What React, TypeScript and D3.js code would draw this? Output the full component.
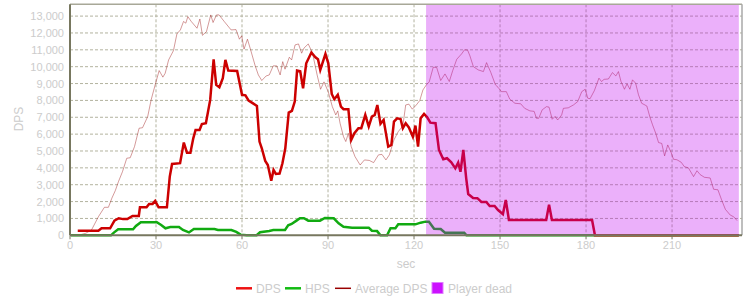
import React from "react";
import * as d3 from "d3";

const dpsT = [2.7, 9.9, 11, 14, 15.5, 17, 18.5, 20, 21.8, 24, 24.4, 26.7, 27.6, 28.8, 29.7, 30.9, 33.8, 34.8, 35.6, 38.4, 39.7, 40.8, 42, 43, 43.8, 45.2, 46, 47.4, 48.9, 50.1, 51, 52.1, 53.3, 54.2, 55.2, 58.3, 60, 61.2, 62.3, 63.7, 65.2, 66.1, 66.9, 68.1, 69, 70.2, 71, 71.8, 73.1, 74.1, 75.1, 76.3, 77.4, 78.4, 79.2, 80.3, 81.3, 82.4, 84.2, 85.6, 86.5, 87.3, 89.1, 90.1, 91.3, 92.2, 93.4, 94.5, 95.4, 97.1, 98.1, 99.2, 100.6, 101.6, 103, 104.2, 105.3, 106.3, 107.2, 108.3, 109.4, 111, 112.1, 113, 114.1, 115.3, 116.1, 117.1, 118.2, 119.6, 120.5, 121.4, 122.3, 123.5, 124.6, 125.7, 127.5, 128.7, 130.2, 131.5, 133, 134.4, 135.4, 136.2, 137.2, 138.2, 138.9, 140.6, 142.1, 143.5, 145.2, 146.4, 148.1, 149.3, 151, 152, 153.1, 166.1, 167.1, 168.1, 182.1, 183.1, 233.3];
const dpsV = [270, 270, 415, 415, 870, 1010, 960, 960, 1145, 1145, 1660, 1660, 1860, 1860, 2035, 1660, 1660, 3480, 4230, 4280, 5500, 4900, 4900, 5750, 6250, 6250, 6600, 6650, 8030, 10440, 8920, 8780, 9320, 10400, 9770, 9750, 8330, 8300, 7990, 7840, 7670, 5560, 5160, 4410, 4170, 3240, 3880, 3640, 3660, 4270, 5160, 7280, 7380, 7930, 9770, 9730, 8720, 10200, 10840, 10560, 10440, 9810, 10760, 10200, 8380, 8070, 8330, 7630, 7480, 7480, 5660, 6050, 6350, 6350, 7140, 6450, 7040, 7140, 7730, 6610, 6840, 5260, 5360, 6740, 6940, 6900, 6350, 6650, 6400, 5850, 6510, 5260, 6940, 7200, 7000, 6680, 6650, 5060, 4510, 4570, 4330, 3970, 4310, 3770, 5060, 3380, 2450, 2210, 2200, 1980, 1980, 1740, 1740, 1500, 1250, 2090, 910, 910, 1820, 910, 910, 0, 0];

const hpsT = [0.3, 14.3, 15.3, 16.8, 22, 23, 24.7, 30.3, 31.8, 33.3, 35, 38, 39.4, 41.5, 43.2, 50.4, 51.6, 56.3, 58, 59.5, 61.6, 65.1, 66.3, 69.5, 70.9, 75, 76.1, 77.3, 79, 80.2, 81.6, 83.1, 87.2, 88.9, 92, 93.7, 95.4, 98.4, 104.2, 105.3, 107.1, 108.3, 110.6, 111.8, 113.5, 114.5, 120.5, 122.3, 124, 125.2, 127, 129.3, 130.8, 137.5, 138.3, 233.3];
const hpsV = [0, 0, 160, 355, 355, 550, 780, 780, 610, 415, 490, 490, 315, 170, 370, 370, 315, 315, 200, 40, 0, 0, 180, 255, 315, 315, 590, 670, 870, 1010, 1010, 870, 870, 1030, 1010, 710, 510, 450, 450, 270, 250, 0, 0, 415, 415, 650, 650, 750, 810, 810, 390, 375, 155, 155, 0, 0];

const avgT = [0, 2.9, 5.5, 7.5, 9.9, 12, 13.4, 14.6, 15.8, 16.9, 18.3, 19.8, 21, 22.5, 24.1, 25.3, 27.1, 28.3, 29.7, 31.1, 32.4, 33.2, 34.4, 36.1, 37.3, 38.5, 39.6, 40.4, 41.1, 42.3, 44.3, 45.3, 46.2, 47.6, 49.1, 49.9, 51.1, 52, 53.8, 56.2, 57.9, 59.1, 59.9, 60.7, 61.9, 63, 64.6, 65.7, 66.9, 68.4, 69.5, 70.9, 72.1, 73.3, 74.2, 75, 76.5, 77.3, 78.5, 79.7, 80.8, 81.6, 83.1, 84.6, 86.2, 87.4, 88.6, 90.1, 91.5, 92.7, 93.4, 94.2, 95.4, 96.2, 97.1, 98.1, 99.4, 101.2, 102.7, 104.4, 105.9, 107.6, 108.8, 110.2, 111.4, 113, 114.5, 116.1, 117.1, 118.2, 119.4, 120.8, 122, 123.1, 124.3, 125.3, 126.7, 127.9, 129.3, 130.8, 132.3, 133.5, 134.9, 136.6, 137.6, 138.7, 139.5, 140.7, 142.4, 144.2, 145.3, 146.8, 148.4, 149.3, 150.5, 152.2, 153.4, 155.2, 157.2, 158.6, 160.4, 161.9, 162.7, 163.5, 164.7, 166.2, 167.1, 168.2, 169.2, 170.1, 171.5, 172.1, 173.8, 175.6, 177.1, 178.5, 179.7, 180.6, 181.4, 182.9, 184.5, 185.4, 186.3, 187.8, 189.2, 190.4, 191.3, 192.2, 193.4, 194.3, 195.3, 196.2, 197.3, 198.3, 199.4, 201.2, 202.3, 203.2, 204.3, 205.3, 206.4, 207.4, 208.5, 209.7, 210.5, 211.7, 213.2, 214.3, 215.7, 217.5, 218.7, 219.8, 221.3, 223.3, 224.5, 226, 227.2, 228.6, 230.3, 231.5, 232.7];
const avgV = [0, 0, 120, 315, 1100, 1660, 1660, 2200, 2650, 3180, 3770, 4570, 4600, 5260, 6350, 6380, 7040, 8030, 8920, 9770, 9380, 9610, 10400, 10960, 11950, 12180, 12680, 12580, 12970, 12680, 12280, 12830, 11860, 12080, 13070, 12620, 13070, 13070, 12680, 12180, 12200, 11630, 11830, 11040, 11630, 11000, 10050, 9510, 9180, 9450, 9510, 10050, 10050, 9510, 10300, 9850, 10560, 10400, 11290, 11350, 10800, 11100, 11350, 10800, 9510, 8660, 9100, 8500, 7630, 7140, 7380, 6650, 5850, 5560, 6050, 5260, 4670, 4170, 4470, 4440, 4310, 4770, 4800, 4470, 4770, 5660, 6150, 6490, 7730, 7780, 7480, 7730, 7990, 8620, 8920, 9100, 9970, 9950, 9180, 9570, 9120, 9770, 10440, 10760, 11000, 10980, 10640, 10000, 9810, 9710, 10240, 9650, 8920, 8780, 8520, 8520, 8070, 7830, 7800, 7530, 7380, 7350, 6940, 6940, 7440, 7630, 7600, 6880, 7050, 6840, 7140, 7530, 7560, 7730, 7930, 8520, 8660, 8130, 8100, 8580, 9320, 9120, 9250, 9270, 9650, 9450, 9710, 9120, 8660, 8980, 8660, 9220, 9020, 8330, 7830, 7670, 7000, 6550, 6050, 5500, 5450, 4710, 5360, 4900, 4510, 4480, 4330, 4070, 4000, 3480, 3830, 3600, 3440, 3400, 2730, 2700, 2140, 1540, 1200, 1100, 870];

const deadStart = 124.2;
const deadEnd = 233.3;
const xTicks = [0, 30, 60, 90, 120, 150, 180, 210];
const yTicks = [0, 1000, 2000, 3000, 4000, 5000, 6000, 7000, 8000, 9000, 10000, 11000, 12000, 13000];
const legendItems = ["DPS", "HPS", "Average DPS", "Player dead"];

const W = 750, H = 300;
const L = 70, R = 742, T = 4.3, B = 235.3;
const FONT = "'Liberation Sans', Arial, sans-serif";
const TEXT = "#cccccc";

export default function App() {
  const x = d3.scaleLinear().domain([0, 234.4]).range([L, R]);
  const y = d3.scaleLinear().domain([0, 13700]).range([B, T]);
  const mk = (ts: number[], vs: number[]) =>
    d3.line<number>().x((_, i) => x(ts[i])).y((v) => y(v))(vs) || "";
  const fmt = d3.format(",");

  const legendX = [236, 285, 335, 432];
  return (
    <svg width={W} height={H} style={{ position: "absolute", left: 0, top: 0 }} fontFamily={FONT}>
      <rect x={0} y={0} width={W} height={H} fill="#fff" />
      {yTicks.filter((v) => v > 0).map((v) => (
        <line key={"gy" + v} x1={L} x2={R} y1={y(v)} y2={y(v)} stroke="#b3b39f" strokeDasharray="3,2" strokeWidth={1} />
      ))}
      {xTicks.filter((v) => v > 0).map((v) => (
        <line key={"gx" + v} x1={x(v)} x2={x(v)} y1={T} y2={B} stroke="#b3b39f" strokeDasharray="3,2" strokeWidth={1} />
      ))}
      <path d={mk(avgT, avgV)} fill="none" stroke="#a02020" strokeOpacity={0.45} strokeWidth={1} />
      <path d={mk(hpsT, hpsV)} fill="none" stroke="#11aa11" strokeWidth={2.5} />
      <path d={mk(dpsT, dpsV)} fill="none" stroke="#cc0000" strokeWidth={2.5} />
      <rect x={x(deadStart)} y={T} width={x(deadEnd) - x(deadStart)} height={B - T} fill="rgb(192,0,240)" fillOpacity={0.31} />
      <line x1={L} x2={R} y1={T} y2={T} stroke="#a8a898" strokeWidth={1.5} />
      <line x1={R} x2={R} y1={T} y2={B} stroke="#a8a8a8" strokeWidth={1.5} />
      <line x1={L} x2={L} y1={T} y2={B} stroke="#77775f" strokeWidth={2} />
      <line x1={L} x2={R} y1={B} y2={B} stroke="#77775f" strokeWidth={2} />
      {xTicks.map((v) => (
        <g key={"xt" + v}>
          <line x1={x(v)} x2={x(v)} y1={B} y2={B + 4} stroke="#77775f" />
          <text x={x(v)} y={249} textAnchor="middle" fontSize={11} fill={TEXT}>{v}</text>
        </g>
      ))}
      {yTicks.map((v) => (
        <text key={"yt" + v} x={64} y={y(v) + 4} textAnchor="end" fontSize={11} fill={TEXT}>{fmt(v)}</text>
      ))}
      <text x={(L + R) / 2} y={267.5} textAnchor="middle" fontSize={12} fill={TEXT}>sec</text>
      <text transform={`translate(23,119) rotate(-90)`} textAnchor="middle" fontSize={12} fill={TEXT}>DPS</text>
      <g>
        <line x1={legendX[0]} x2={legendX[0] + 16} y1={288.3} y2={288.3} stroke="#ee1111" strokeWidth={2.5} />
        <text x={legendX[0] + 20} y={293.3} fontSize={12} fill={TEXT}>{legendItems[0]}</text>
        <line x1={legendX[1]} x2={legendX[1] + 16} y1={288.3} y2={288.3} stroke="#11bb11" strokeWidth={2.5} />
        <text x={legendX[1] + 20} y={293.3} fontSize={12} fill={TEXT}>{legendItems[1]}</text>
        <line x1={legendX[2]} x2={legendX[2] + 16} y1={288.3} y2={288.3} stroke="#990000" strokeWidth={1.5} />
        <text x={legendX[2] + 20} y={293.3} fontSize={12} fill={TEXT}>{legendItems[2]}</text>
        <rect x={legendX[3]} y={282.5} width={11} height={11} fill="#cc11ff" stroke="#e07cff" strokeWidth={1} />
        <text x={legendX[3] + 16} y={293.3} fontSize={12} fill={TEXT}>{legendItems[3]}</text>
      </g>
    </svg>
  );
}
